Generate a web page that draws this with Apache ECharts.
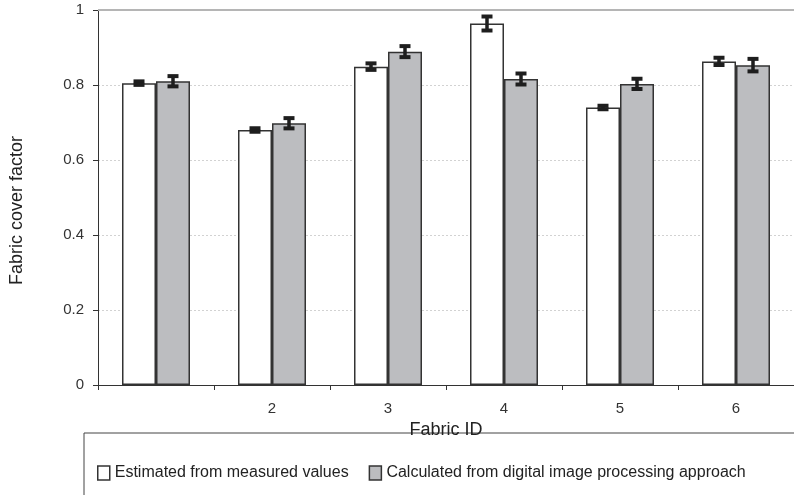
<!DOCTYPE html>
<html><head><meta charset="utf-8">
<script src="https://cdn.jsdelivr.net/npm/echarts@6/dist/echarts.min.js"></script>
<style>html,body{margin:0;padding:0;background:#fff}#c{width:794px;height:495px}</style>
</head><body><div id="c"></div>
<script>
var categories = ['', '2', '3', '4', '5', '6'];
var estimated = [0.805, 0.680, 0.849, 0.964, 0.740, 0.863];
var estimatedErr = [0.006, 0.006, 0.010, 0.020, 0.006, 0.011];
var calculated = [0.810, 0.698, 0.889, 0.816, 0.803, 0.853];
var calculatedErr = [0.015, 0.015, 0.016, 0.016, 0.015, 0.018];
var seriesNames = ['Estimated from measured values', 'Calculated from digital image processing approach'];

var chart = echarts.init(document.getElementById('c'));
var font = 'Liberation Sans, Arial, sans-serif';

function errSeries(vals, errs, offset) {
  return {
    type: 'custom',
    silent: true,
    z: 10,
    data: vals.map(function (v, i) { return [i, v, errs[i]]; }),
    renderItem: function (params, api) {
      var i = api.value(0), v = api.value(1), e = api.value(2);
      var top = api.coord([i, v + e]);
      var bot = api.coord([i, v - e]);
      var x = top[0] + offset;
      var cw = 11, ch = 4;
      return {
        type: 'group',
        children: [
          { type: 'line', shape: { x1: x, y1: top[1], x2: x, y2: bot[1] }, style: { stroke: '#1e1e1e', lineWidth: 3.5 } },
          { type: 'rect', shape: { x: x - cw / 2, y: top[1] - 1.5, width: cw, height: ch }, style: { fill: '#1e1e1e' } },
          { type: 'rect', shape: { x: x - cw / 2, y: bot[1] - 2.5, width: cw, height: ch }, style: { fill: '#1e1e1e' } }
        ]
      };
    }
  };
}

chart.setOption({
  animation: false,
  grid: { left: 97, top: 10, width: 702, height: 375 },
  legend: {
    left: 92, top: 460, itemGap: 20, itemWidth: 12, itemHeight: 14,
    textStyle: { fontFamily: font, fontSize: 16, color: '#222' },
    data: [
      { name: seriesNames[0], icon: 'rect', itemStyle: { color: '#fff', borderColor: '#333', borderWidth: 1.5 } },
      { name: seriesNames[1], icon: 'rect', itemStyle: { color: '#bcbdc0', borderColor: '#333', borderWidth: 1.5 } }
    ]
  },
  graphic: [{
    type: 'rect', shape: { x: 84, y: 433, width: 760, height: 120 },
    style: { fill: 'none', stroke: '#444', lineWidth: 1 }, silent: true
  }],
  xAxis: {
    type: 'category', data: categories,
    name: 'Fabric ID', nameLocation: 'middle', nameGap: 32,
    nameTextStyle: { fontFamily: font, fontSize: 18, color: '#222' },
    axisLine: { lineStyle: { color: '#333', width: 1 } },
    axisTick: { show: true, length: 5, lineStyle: { color: '#333' } },
    axisLabel: { fontFamily: font, fontSize: 15, color: '#333', margin: 16 }
  },
  yAxis: {
    type: 'value', min: 0, max: 1, interval: 0.2,
    name: 'Fabric cover factor', nameLocation: 'middle', nameGap: 72,
    nameTextStyle: { fontFamily: font, fontSize: 18, color: '#222', padding: [0, 26, 0, 0] },
    axisLine: { show: true, lineStyle: { color: '#333', width: 1 } },
    axisTick: { show: true, length: 5, lineStyle: { color: '#333' } },
    axisLabel: { fontFamily: font, fontSize: 15, color: '#333', margin: 14 },
    splitLine: { show: true, lineStyle: { color: '#d2d2d2', type: [2, 2], width: 1 } }
  },
  series: [
    {
      name: seriesNames[0], type: 'bar', data: estimated, barWidth: 34, barGap: '0%',
      itemStyle: { color: '#fff', borderColor: '#333', borderWidth: 1.5 },
      markLine: {
        silent: true, symbol: 'none', label: { show: false },
        lineStyle: { color: '#b5b5b5', type: 'solid', width: 2 },
        data: [{ yAxis: 1 }]
      }
    },
    {
      name: seriesNames[1], type: 'bar', data: calculated, barWidth: 34,
      itemStyle: { color: '#bcbdc0', borderColor: '#333', borderWidth: 1.5 }
    },
    errSeries(estimated, estimatedErr, -17),
    errSeries(calculated, calculatedErr, 17)
  ]
});
</script>
</body></html>
